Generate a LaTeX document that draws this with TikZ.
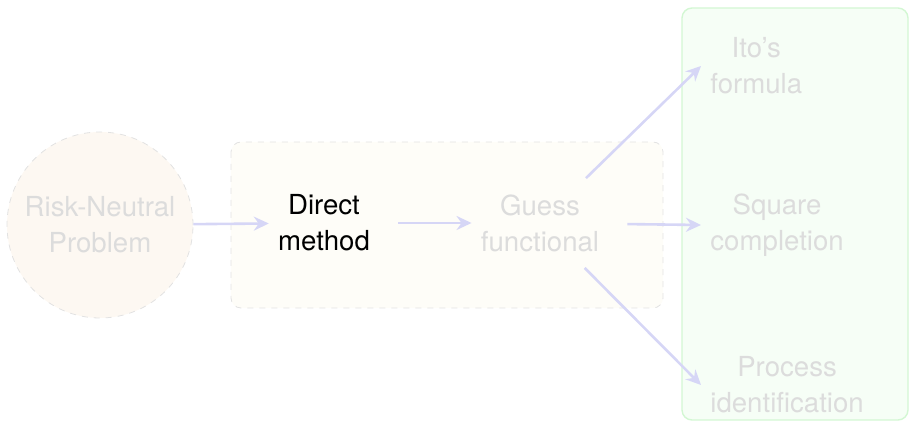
\documentclass[tikz,border=0pt]{standalone}
\usepackage{fontspec}
\setmainfont{TeX Gyre Heros}
\usetikzlibrary{arrows.meta}
\usetikzlibrary{positioning}

\definecolor{arrowcol}{HTML}{D6D6F6}
\definecolor{fadetext}{HTML}{DCDCDC}
\definecolor{circfill}{HTML}{FDF8F2}
\definecolor{boxfill}{HTML}{FEFDF8}
\definecolor{greenfill}{HTML}{F6FEF6}
\definecolor{greenline}{HTML}{D3F7D3}
\definecolor{dashline}{HTML}{E2E2E2}

\begin{document}
\begin{tikzpicture}[x=0.5pt, y=-0.5pt]
    \tikzstyle{txt}=[align=center, font=\fontsize{13.8}{18}\selectfont, inner sep=4.5pt];
    \tikzstyle{arr}=[draw=arrowcol, line width=1.3pt, -{Stealth[length=7.5pt, width=7pt, inset=2.5pt]}];
    \useasboundingbox (0,0) rectangle (909,421);
    % backgrounds
    \draw[dashline, dashed, fill=boxfill, rounded corners=5pt] (231,142) rectangle (663,308);
    \draw[greenline, line width=0.7pt, fill=greenfill, rounded corners=5pt] (682,8) rectangle (908,420);
    \node[txt, circle, draw=dashline, dashed, fill=circfill, text=fadetext, minimum size=93pt] (risk) at (100,225) {Risk-Neutral\\Problem};
    \node[txt] (direct) at (324,223) {Direct\\method};
    \node[txt, text=fadetext] (guess) at (540,223) {Guess\\functional};
    \node[txt, text=fadetext, anchor=west] (ito) at (701,66) {Ito's\\formula};
    \node[txt, text=fadetext, anchor=west] (square) at (701,225) {Square\\completion};
    \node[txt, text=fadetext, anchor=west] (process) at (701,385) {Process\\identification};
    \draw[arr] (risk) -- (direct);
    \draw[arr, shorten <=9.5pt] (direct) -- (guess);
    \draw[arr, shorten <=9.5pt] (guess) -- (square.west);
    \foreach \n in {ito, process} {
      \draw[arr, shorten <=5pt] (guess) -- (\n.west);
    }
\end{tikzpicture}
\end{document}
